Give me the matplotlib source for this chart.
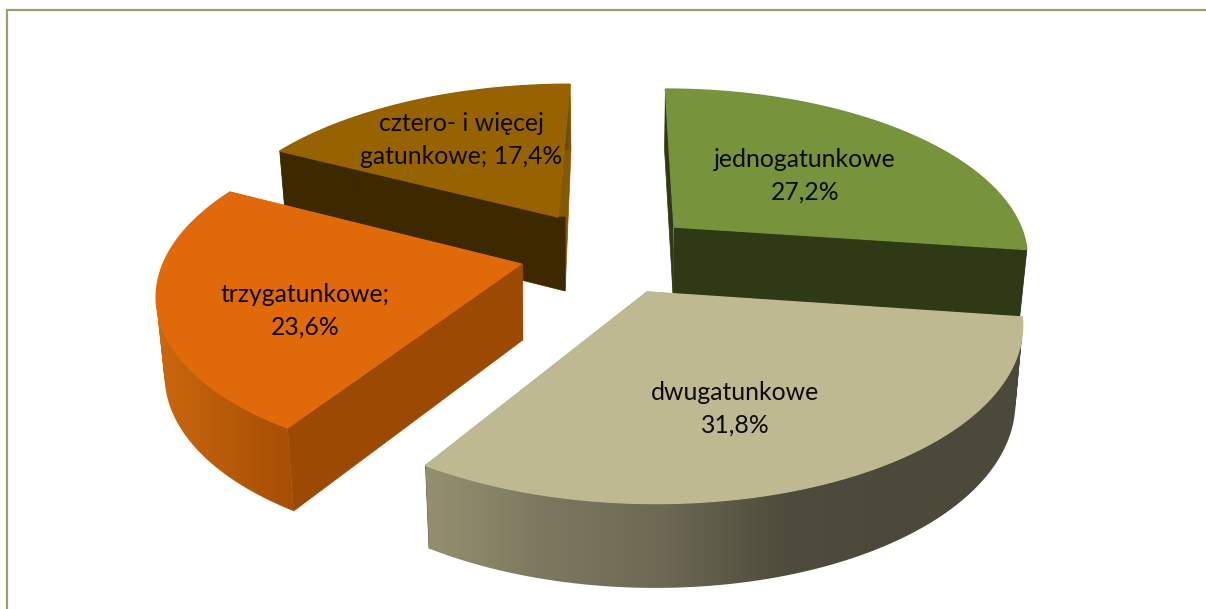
import numpy as np
import matplotlib
matplotlib.use('Agg')
import matplotlib.pyplot as plt
from matplotlib.colors import to_rgb
from matplotlib.patches import PathPatch
from matplotlib.path import Path

# udzial drzewostanow wg liczby gatunkow, kolejnosc zgodnie z ruchem wskazowek od gory
names = ['jednogatunkowe', 'dwugatunkowe', 'trzygatunkowe;', 'cztero- i więcej\ngatunkowe;']
values = [27.2, 31.8, 23.6, 17.4]
separators = ['\n', '\n', '\n', ' ']

top_colors = ['#77933C', '#BFB992', '#E0690A', '#976300']
start_face_colors = ['#2F3916', '#4C493A', '#9C4A03', '#3D2900']
end_face_colors = ['#2F3916', '#4C493A', '#9C4A03', '#855900']
arc_colors = [['#2F3916', '#2F3916'],
              ['#94906F', '#7C7860', '#6C6853', '#4F4C3D', '#4C493A', '#4C493A'],
              ['#CB680E', '#A64E04'],
              ['#3D2900'] * 19 + ['#855900']]

# geometria rzutu kazdego wycinka: wierzcholek, skale, skos, glebokosc
apex = [(674, 227), (647, 292), (521, 264), (558, 217)]
scale_x = [347, 369.5, 358, 343.6]
scale_y = [160, 177.7, 168, 154]
skew = [-10, -7.6, 11.9, 14]
depth = [68, 76, 76, 74]
apex_shift = [0, 0, 0, 6]
persp = 0.16
label_pos = [(805, 175.5), (735, 409), (305, 311), (461, 140)]
order = [3, 0, 2, 1]  # od tylu do przodu


def project(i, theta):
    x0, y0 = apex[i]
    dx, dy = np.sin(theta), np.cos(theta)
    w = 1 + persp * dy
    return x0 + (scale_x[i] * dx + skew[i] * dy) / w, y0 - scale_y[i] * dy / w


def lower(i, x, y, dy):
    # dolna krawedz bryly, pionowe krawedzie zbiegaja sie ku dolowi
    d = depth[i] * (1 - 0.11 * dy)
    return x + 0.018 * (620 - x), y + d


def arc_color(stops, t):
    stops = [np.array(to_rgb(c)) for c in stops]
    t = t * (len(stops) - 1)
    k = min(int(t), len(stops) - 2)
    return stops[k] + (stops[k + 1] - stops[k]) * (t - k)


def side_path(xs, ys, bxs, bys):
    # zlozona sciezka z czworokatow o tej samej orientacji
    quads = []
    for k in range(len(xs) - 1):
        q = np.array([[xs[k], ys[k]], [xs[k + 1], ys[k + 1]],
                      [bxs[k + 1], bys[k + 1]], [bxs[k], bys[k]], [xs[k], ys[k]]])
        area = np.sum(q[:-1, 0] * q[1:, 1] - q[1:, 0] * q[:-1, 1])
        if area < 0:
            q = q[::-1]
        quads.append(Path(q))
    return Path.make_compound_path(*quads)


def draw_wedge(ax, i, th0, th1):
    z = 2 + order.index(i)
    ax0, ay0 = apex[i]
    bx0, by0 = lower(i, ax0, ay0, 0)
    bx0 += apex_shift[i]
    thetas = np.linspace(th0, th1, 200)
    xs, ys = project(i, thetas)
    bxs, bys = lower(i, xs, ys, np.cos(thetas))

    # sciany radialne
    ax.fill([ax0, xs[-1], bxs[-1], bx0], [ay0, ys[-1], bys[-1], by0],
            color=end_face_colors[i], lw=0.5, zorder=z)
    ax.fill([xs[0], ax0, bx0, bx0, bxs[0]], [ys[0], ay0, ay0, by0, bys[0]],
            color=start_face_colors[i], lw=0.5, zorder=z + 0.1)
    # sciana boczna z gradientem
    left, right = min(xs.min(), bxs.min()), max(xs.max(), bxs.max())
    grad = np.array([arc_color(arc_colors[i], t) for t in np.linspace(0, 1, 300)])[None, :, :]
    img = ax.imshow(grad, extent=(left, right, 609, 0), aspect='auto',
                    interpolation='bilinear', zorder=z + 0.2)
    side = PathPatch(side_path(xs, ys, bxs, bys), transform=ax.transData)
    img.set_clip_path(side)
    # wierzch
    ax.fill(np.r_[ax0, xs], np.r_[ay0, ys], color=top_colors[i], lw=1.0, zorder=z + 0.3)


fig = plt.figure(figsize=(12.06, 6.09), dpi=100)
ax = fig.add_axes([0, 0, 1, 1])

edges = np.r_[0, np.cumsum(values)] / np.sum(values) * 2 * np.pi

for i in order:
    draw_wedge(ax, i, edges[i], edges[i + 1])

ax.set_xlim(0, 1206)
ax.set_ylim(609, 0)
ax.axis('off')

for i in range(len(values)):
    label = names[i] + separators[i] + f'{values[i]:.1f}'.replace('.', ',') + '%'
    ax.text(label_pos[i][0], label_pos[i][1], label, ha='center', va='center',
            family='Lato', fontsize=17.8, linespacing=1.5, color='#0A0A0A', zorder=10)

# ramka wykresu
ax.plot([7, 7, 1206], [609, 10, 10], color='#A09C6E', lw=1.6, solid_joinstyle='miter', zorder=11)

fig.savefig('out.png', dpi=100)
